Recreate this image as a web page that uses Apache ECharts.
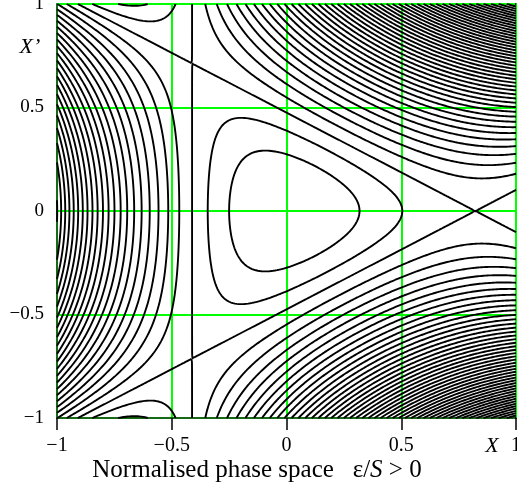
<!DOCTYPE html>
<html>
<head>
<meta charset="utf-8">
<script src="https://cdn.jsdelivr.net/npm/echarts@6.0.0/dist/echarts.min.js"></script>
<style>
html,body{margin:0;padding:0;background:#fff;}
#chart{width:517px;height:493px;}
</style>
</head>
<body>
<div id="chart"></div>
<script>
// ---- data ----
const xTickValues = [-1, -0.5, 0, 0.5, 1];
const yTickValues = [-1, -0.5, 0, 0.5, 1];
// X position of the hyperbolic fixed point (separatrix crossing on X' = 0)
const separatrixVertexX = 0.823;
// contour levels, relative to the separatrix level (= 1)
const contourLevels = [0.333, 0.667, 1, 1.333, 1.667, 2, 2.333, 2.667, 3, 3.333, 3.667, 4,
  4.333, 4.667, 5, 5.333, 5.667, 6, 6.333, 6.667, 7, 7.333, 7.667, 8,
  8.333, 8.667, 9, 9.333, 9.667, 10, 10.333, 10.667, 11, 11.333, 11.667, 12,
  12.333, 12.667, 13, 13.333, 13.667, 14, 14.333, 14.667, 15, 15.333, 15.667, 16];
const xName = 'X';
const yName = 'X\u2019';

// ---- phase-space invariant (third-order resonance), normalised so separatrix = 1 ----
function invariant(x, xp) {
  const u = x / separatrixVertexX, v = xp / separatrixVertexX;
  return 3 * (u * u + v * v) + 6 * u * v * v - 2 * u * u * u;
}

// ---- marching squares ----
const N = 240;
const gx = [];
for (let i = 0; i <= N; i++) gx.push(-1 + 2 * i / N);
const F = [];
for (let j = 0; j <= N; j++) {
  const row = new Float64Array(N + 1);
  for (let i = 0; i <= N; i++) row[i] = invariant(gx[i], gx[j]);
  F.push(row);
}

function contourChains(L) {
  const segs = [];
  const pts = new Map();
  const W = N + 1;
  function hKey(i, j) { return (j * W + i) * 2; }
  function vKey(i, j) { return (j * W + i) * 2 + 1; }
  function point(key) {
    if (pts.has(key)) return pts.get(key);
    const idx = key >> 1, i = idx % W, j = (idx - i) / W;
    let p;
    if ((key & 1) === 0) {
      const a = F[j][i], b = F[j][i + 1];
      const t = (L - a) / (b - a);
      p = [gx[i] + t * (gx[i + 1] - gx[i]), gx[j]];
    } else {
      const a = F[j][i], b = F[j + 1][i];
      const t = (L - a) / (b - a);
      p = [gx[i], gx[j] + t * (gx[j + 1] - gx[j])];
    }
    pts.set(key, p);
    return p;
  }
  for (let j = 0; j < N; j++) {
    for (let i = 0; i < N; i++) {
      const a = F[j][i], b = F[j][i + 1], c = F[j + 1][i + 1], d = F[j + 1][i];
      const idx = (a > L ? 1 : 0) | (b > L ? 2 : 0) | (c > L ? 4 : 0) | (d > L ? 8 : 0);
      if (idx === 0 || idx === 15) continue;
      const e0 = hKey(i, j), e1 = vKey(i + 1, j), e2 = hKey(i, j + 1), e3 = vKey(i, j);
      const center = (a + b + c + d) / 4;
      switch (idx) {
        case 1: case 14: segs.push([e3, e0]); break;
        case 2: case 13: segs.push([e0, e1]); break;
        case 3: case 12: segs.push([e3, e1]); break;
        case 4: case 11: segs.push([e1, e2]); break;
        case 6: case 9: segs.push([e0, e2]); break;
        case 7: case 8: segs.push([e2, e3]); break;
        case 5:
          if (center > L) { segs.push([e0, e1]); segs.push([e2, e3]); }
          else { segs.push([e3, e0]); segs.push([e1, e2]); }
          break;
        case 10:
          if (center > L) { segs.push([e3, e0]); segs.push([e1, e2]); }
          else { segs.push([e0, e1]); segs.push([e2, e3]); }
          break;
      }
    }
  }
  const adj = new Map();
  segs.forEach((s, k) => {
    for (const e of s) {
      if (!adj.has(e)) adj.set(e, []);
      adj.get(e).push(k);
    }
  });
  const used = new Uint8Array(segs.length);
  function extend(chain) {
    for (;;) {
      const end = chain[chain.length - 1];
      const list = adj.get(end);
      let next = -1;
      for (const s of list) if (!used[s]) { next = s; break; }
      if (next < 0) break;
      used[next] = 1;
      const s = segs[next];
      chain.push(s[0] === end ? s[1] : s[0]);
    }
  }
  const chains = [];
  for (let k = 0; k < segs.length; k++) {
    if (used[k]) continue;
    used[k] = 1;
    let chain = [segs[k][0], segs[k][1]];
    extend(chain);
    chain.reverse();
    extend(chain);
    chains.push(chain.map(point));
  }
  return chains;
}

const lineData = [];
contourLevels.forEach(L => {
  contourChains(L).forEach(c => lineData.push({ coords: c }));
});

const fmt = v => (v < 0 ? '\u2212' + String(-v) : String(v));
const serif = 'Liberation Serif, Times New Roman, serif';

const chart = echarts.init(document.getElementById('chart'), null, { renderer: 'canvas' });
chart.setOption({
  animation: false,
  backgroundColor: '#ffffff',
  grid: {
    left: 57, right: 1, top: 4, bottom: 75,
    containLabel: false, outerBoundsMode: 'none',
    show: true, borderColor: '#1e3a1e', borderWidth: 1.5, backgroundColor: 'transparent'
  },
  xAxis: {
    type: 'value', min: xTickValues[0], max: xTickValues[xTickValues.length - 1], interval: 0.5,
    axisLine: { show: true, onZero: false, lineStyle: { color: '#1e3a1e', width: 1.5 } },
    axisTick: { show: true, inside: false, length: 12, lineStyle: { color: '#000', width: 1.5 } },
    axisLabel: {
      show: true, margin: 18, color: '#000', fontFamily: serif, fontSize: 20,
      showMinLabel: true, showMaxLabel: true,
      formatter: v => fmt(v)
    },
    splitLine: { show: true, lineStyle: { color: '#00ff00', width: 2 } }
  },
  yAxis: {
    type: 'value', min: yTickValues[0], max: yTickValues[yTickValues.length - 1], interval: 0.5,
    axisLine: { show: true, onZero: false, lineStyle: { color: '#1e3a1e', width: 1.5 } },
    axisTick: { show: false },
    axisLabel: {
      show: true, margin: 13, color: '#000', fontFamily: serif, fontSize: 19,
      padding: [8, 0, 0, 0], showMinLabel: true, showMaxLabel: true,
      formatter: v => fmt(v)
    },
    splitLine: { show: true, lineStyle: { color: '#00ff00', width: 2 } }
  },
  graphic: [
    { type: 'text', x: 492, y: 446, silent: true,
      style: { text: xName, fill: '#000', font: 'italic 22px ' + serif, align: 'center', verticalAlign: 'middle' } },
    { type: 'text', x: 30, y: 47, silent: true,
      style: { text: yName, fill: '#000', font: 'italic 22px ' + serif, align: 'center', verticalAlign: 'middle' } },
    { type: 'text', x: 257, y: 470, silent: true,
      style: {
        text: 'Normalised phase space   \u03b5/{i|S} > 0',
        fill: '#000', fontFamily: serif, fontSize: 25, align: 'center', verticalAlign: 'middle',
        rich: { i: { fontFamily: serif, fontSize: 25, fontStyle: 'italic', fill: '#000' } }
      } }
  ],
  series: [{
    type: 'lines', coordinateSystem: 'cartesian2d', polyline: true, silent: true,
    large: false, z: 3,
    lineStyle: { color: '#000', width: 1.9, opacity: 1 },
    data: lineData
  }]
});
</script>
</body>
</html>
